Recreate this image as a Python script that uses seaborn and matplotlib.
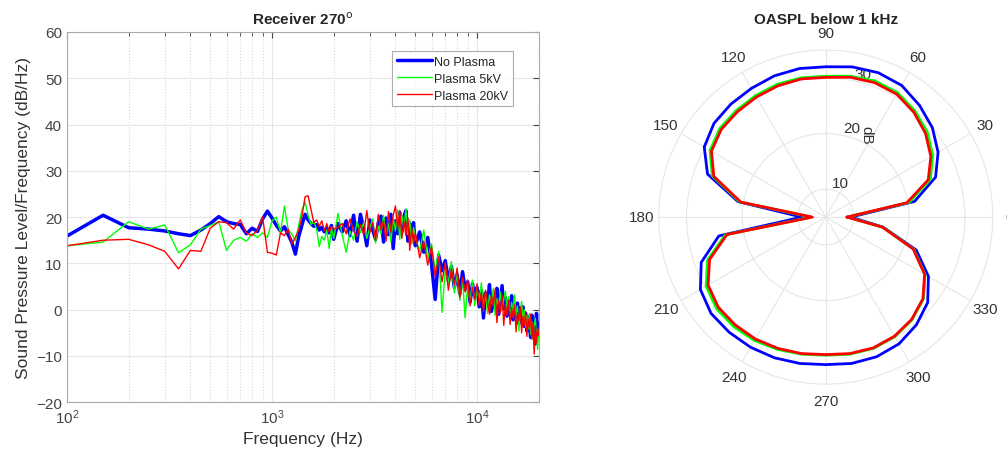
import numpy as np
import pandas as pd
import matplotlib
matplotlib.use('Agg')
import matplotlib.pyplot as plt
import seaborn as sns

# Spectrum at receiver 270 deg: frequency grid (Hz)
freq = np.concatenate([np.arange(100, 2001, 50),
                       np.arange(2100, 5001, 100),
                       np.arange(5250, 20001, 250)])

no_plasma = [
    15.9, 20.4, 17.7, 17.4, 17.0, 16.4, 16.0, 17.2, 18.6, 20.1, 19.0, 18.6, 18.4,
    16.4, 17.6, 16.9, 19.6, 21.3, 19.8, 18.2, 17.0, 17.9, 16.2, 14.5, 12.0, 15.8,
    18.3, 20.6, 19.4, 18.6, 18.0, 18.4, 17.2, 17.8, 16.8, 17.6, 16.6, 18.2, 15.2,
    18.6, 16.8, 19.2, 16.0, 20.4, 14.8, 20.6, 17.6, 13.8, 19.4, 17.2, 15.2, 18.8,
    20.2, 14.6, 19.8, 16.2, 20.6, 13.2, 19.2, 16.4, 21.0, 16.8, 20.2, 21.4, 14.8,
    18.6, 15.6, 18.8, 13.8,
    16.8, 12.4, 15.6, 9.8, 2.2, 11.8, 8.4, 10.6, 6.2, 9.4, 4.8, 7.6, 3.4, 8.2,
    4.4, 6.0, 1.6, 5.6, 2.8, 4.8, 0.6, 4.2, -1.8, 3.6, 1.2, 5.4, -0.4, 2.8, 0.4,
    4.6, -1.0, 2.2, 5.2, 0.2, 2.6, -1.4, 1.8, -0.6, 3.0, -2.2, 0.8, -1.6, 1.4,
    -3.0, 0.4, -2.4, 0.6, -3.6, -0.8, -4.6, -1.6, -3.2, -6.0, -1.2, -4.8, -2.0,
    -7.4, -0.8, -5.6, -3.0]

plasma_5kv = [
    13.8, 14.6, 19.0, 17.4, 18.3, 12.3, 14.0, 17.4, 18.2, 19.0, 12.8, 15.0, 15.6,
    14.8, 16.4, 15.6, 16.6, 15.6, 19.2, 20.0, 16.6, 22.4, 17.2, 16.4, 14.8, 18.2,
    21.6, 23.2, 20.4, 18.4, 19.0, 17.4, 13.6, 15.8, 15.0, 17.2, 13.2, 17.6, 15.4,
    20.8, 16.2, 12.4, 17.0, 15.0, 19.0, 16.6, 18.8, 15.4, 17.8, 19.6, 14.4, 18.0,
    16.4, 20.4, 15.8, 18.6, 14.6, 19.8, 17.0, 21.6, 15.2, 20.4, 17.6, 21.8, 16.2,
    19.4, 14.2, 17.8, 15.6,
    12.6, 17.2, 11.0, 14.2, 8.4, 12.6, -0.6, 8.8, 5.8, 10.4, 3.6, 8.0, 2.0, 6.6,
    -1.8, 5.4, 1.6, 6.4, 0.8, 4.4, 2.0, 5.8, 0.4, 3.6, -0.8, 3.2, 1.4, 4.6, -1.2,
    2.4, 0.6, 3.8, -0.2, 2.2, 4.0, 0.2, 2.8, -2.0, 1.6, -0.6, 3.2, -1.4, 0.8,
    -4.6, -0.2, 1.8, -2.6, 0.0, -3.8, -1.2, -4.2, -0.8, -5.4, -2.6, -6.4, -3.4,
    -1.8, -6.2, -8.6, -4.4]

plasma_20kv = [
    13.8, 15.0, 15.2, 14.0, 12.6, 8.8, 12.8, 12.6, 17.6, 19.0, 18.8, 17.4, 19.4,
    16.6, 16.0, 17.2, 20.0, 12.4, 12.2, 11.8, 16.6, 16.0, 17.4, 14.2, 15.6, 17.2,
    20.2, 24.4, 24.6, 21.6, 18.8, 19.4, 18.0, 19.2, 17.0, 18.6, 16.8, 18.0, 17.4,
    17.8, 18.6, 16.4, 19.6, 17.0, 15.8, 18.4, 16.2, 21.4, 16.6, 18.8, 15.0, 20.6,
    17.2, 19.2, 14.8, 21.2, 16.8, 20.4, 22.4, 17.6, 21.4, 15.4, 19.2, 16.0, 19.8,
    12.8, 17.6, 14.2, 16.6,
    11.2, 14.8, 9.6, 13.6, 7.2, 11.4, 6.0, 10.2, 4.2, 8.8, 5.4, 9.0, 2.6, 7.0,
    3.8, 6.4, 0.8, 4.8, 2.2, 5.6, 1.0, 3.6, -0.4, 4.2, 1.6, -1.0, 3.0, 0.8, 4.4,
    -2.8, 1.8, -0.6, 3.2, -3.4, 1.2, -1.2, 2.0, -3.2, 0.4, -1.8, 1.0, -4.8, -0.6,
    -2.4, 0.6, -5.0, -1.4, -3.4, -0.4, -5.8, -2.0, -4.0, -1.0, -6.4, -2.8, -9.6,
    -3.6, -7.2, -4.0, -5.6]

# OASPL below 1 kHz (dB) vs. angle (deg)
angle_deg = np.arange(0, 361, 10)
oaspl_no_plasma = [9.5, 21.2, 26.0, 28.3, 30.0, 31.2, 32.3, 32.6, 32.4, 32.0,
                   32.1, 32.0, 31.7, 31.5, 31.2, 30.2, 27.6, 21.0, 9.3, 24.5,
                   28.8, 31.0, 31.9, 32.0, 32.0, 31.9, 31.7, 31.5, 31.7, 31.7,
                   31.3, 30.3, 28.9, 26.3, 22.3, 15.5, 9.5]
oaspl_5kv = [8.9, 20.2, 25.0, 27.2, 28.8, 29.9, 30.8, 31.0, 30.7, 30.3,
             30.4, 30.4, 30.2, 30.0, 29.8, 29.0, 26.7, 20.7, 7.6, 23.3,
             27.6, 29.8, 30.6, 30.7, 30.6, 30.3, 30.0, 29.8, 30.0, 30.1,
             29.8, 29.1, 27.9, 25.6, 21.8, 15.4, 8.9]
oaspl_20kv = [8.8, 19.8, 24.6, 26.8, 28.4, 29.6, 30.5, 30.7, 30.5, 30.1,
              30.2, 30.1, 29.9, 29.7, 29.5, 28.7, 26.4, 20.5, 7.4, 23.0,
              27.2, 29.4, 30.2, 30.3, 30.3, 30.1, 29.9, 29.7, 29.9, 30.0,
              29.7, 29.0, 27.8, 25.5, 21.7, 15.3, 8.8]
theta_labels = ['0', '30', '60', '90', '120', '150', '180', '210', '240', '270', '300', '330']

series_names = ['No Plasma', 'Plasma 5kV', 'Plasma 20kV']
colors = {'No Plasma': '#0000ff', 'Plasma 5kV': '#00ff00', 'Plasma 20kV': '#ff0000'}
widths = {'No Plasma': 2.5, 'Plasma 5kV': 1.0, 'Plasma 20kV': 1.0}

spec = pd.DataFrame({'freq': freq, 'No Plasma': no_plasma,
                     'Plasma 5kV': plasma_5kv, 'Plasma 20kV': plasma_20kv})
spec = spec.melt(id_vars='freq', var_name='case', value_name='spl')

polar = pd.DataFrame({'theta': np.deg2rad(angle_deg), 'No Plasma': oaspl_no_plasma,
                      'Plasma 5kV': oaspl_5kv, 'Plasma 20kV': oaspl_20kv})

sns.set_style('white')
plt.rcParams['font.family'] = ['Liberation Sans', 'DejaVu Sans']

fig = plt.figure(figsize=(10.07, 4.52), dpi=100)
ax = fig.add_axes([0.0665, 0.108, 0.4685, 0.819])

for name in series_names:
    sns.lineplot(data=spec[spec['case'] == name], x='freq', y='spl', ax=ax,
                 color=colors[name], linewidth=widths[name], label=name,
                 estimator=None, sort=False)

ax.set_xscale('log')
ax.set_xlim(100, 20000)
ax.set_ylim(-20, 60)
ax.set_yticks(np.arange(-20, 61, 10))
ax.grid(True, which='major', color='#e6e6e6', linewidth=0.8)
ax.grid(True, which='minor', axis='x', color='#d8d8d8', linestyle=':', linewidth=0.8)
ax.set_axisbelow(True)
ax.tick_params(which='both', direction='in', colors='#444444', labelsize=11,
               top=True, right=True, length=3)
ax.tick_params(which='major', length=4)
for sp in ax.spines.values():
    sp.set_color('#aaaaaa')
ax.set_xlabel('Frequency (Hz)', fontsize=12.5, color='#333333', labelpad=4)
ax.set_ylabel('Sound Pressure Level/Frequency (dB/Hz)', fontsize=12.5, color='#333333', labelpad=4)
ax.set_title('Receiver 270$^{\\mathrm{o}}$', fontsize=11, fontweight='bold', pad=6)
leg = ax.legend(loc='upper right', bbox_to_anchor=(0.958, 0.965), fontsize=9,
                frameon=True, fancybox=False, handlelength=2.8, borderpad=0.35,
                labelspacing=0.4, handletextpad=0.2)
leg.get_frame().set_edgecolor('#999999')
leg.get_frame().set_linewidth(0.8)

pax = fig.add_axes([0.654, 0.148, 0.332, 0.739], projection='polar')
for name in series_names:
    sns.lineplot(data=polar, x='theta', y=name, ax=pax, color=colors[name],
                 linewidth=2.0, estimator=None, sort=False, legend=False)
pax.set_rlim(5, 35)
pax.set_rticks([10, 20, 30])
pax.set_rlabel_position(78)
pax.set_thetagrids(np.arange(0, 360, 30), labels=theta_labels)
pax.grid(True, color='#e6e6e6', linewidth=0.8)
pax.spines['polar'].set_color('#e6e6e6')
pax.tick_params(axis='x', labelsize=11, colors='#333333', pad=2)
pax.tick_params(axis='y', labelsize=11, colors='#333333')
pax.set_xlabel('')
pax.set_ylabel('')
pax.text(np.deg2rad(64), 21.5, 'dB', rotation=-90, ha='center', va='center',
         fontsize=11, color='#333333')
pax.set_title('OASPL below 1 kHz', fontsize=11, fontweight='bold', pad=2)

fig.savefig('out.png', dpi=100)
